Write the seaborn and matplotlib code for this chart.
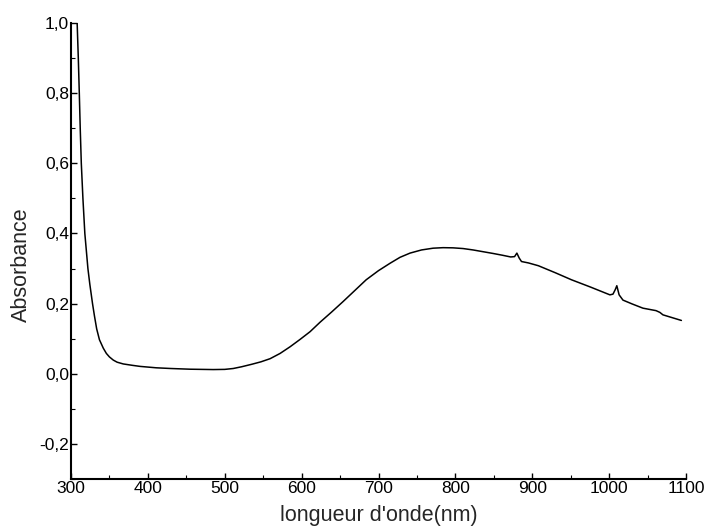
import matplotlib
matplotlib.use("Agg")
import matplotlib.pyplot as plt
import seaborn as sns
import pandas as pd
from matplotlib.ticker import FixedLocator, FixedFormatter, MultipleLocator

wavelength = [308, 309.5, 310.8, 312, 313.4, 315.5, 318, 320, 322, 324.5, 328, 330.5,
              333.4, 337, 342, 346, 350, 355, 360, 368, 380, 390, 411, 430,
              455, 485, 500, 511, 522, 535, 547, 559, 572, 585, 598, 611, 624, 639, 654,
              669, 684, 700, 715, 728, 741, 756, 771, 784, 797, 810, 823, 836, 849, 861,
              872, 877, 880, 883, 886, 895, 908, 930, 951, 976, 1001, 1005, 1008,
              1010, 1013, 1018, 1030, 1044, 1061, 1066, 1070, 1082, 1094]
absorbance = [1.0, 0.9, 0.8, 0.7, 0.6, 0.5, 0.4, 0.35, 0.3, 0.255, 0.2, 0.165,
              0.128, 0.097, 0.073, 0.058, 0.048, 0.039, 0.033, 0.028, 0.024, 0.021,
              0.017, 0.015, 0.013, 0.012, 0.0125, 0.015, 0.02, 0.027, 0.034, 0.043,
              0.058, 0.077, 0.098, 0.12, 0.147, 0.176, 0.206, 0.237, 0.268, 0.294,
              0.315, 0.332, 0.344, 0.353, 0.358, 0.3595, 0.359, 0.357, 0.353, 0.348,
              0.343, 0.338, 0.333, 0.334, 0.344, 0.33, 0.32, 0.316, 0.308, 0.288,
              0.268, 0.247, 0.225, 0.227, 0.24, 0.251, 0.225, 0.21, 0.199, 0.187,
              0.18, 0.175, 0.168, 0.16, 0.152]

xticks = [300, 400, 500, 600, 700, 800, 900, 1000, 1100]
xtick_labels = ["300", "400", "500", "600", "700", "800", "900", "1000", "1100"]
yticks = [-0.2, 0.0, 0.2, 0.4, 0.6, 0.8, 1.0]
ytick_labels = ["-0,2", "0,0", "0,2", "0,4", "0,6", "0,8", "1,0"]

sns.set_style("ticks")
plt.rcParams['font.family'] = ['Liberation Sans', 'DejaVu Sans']

df = pd.DataFrame({"wl": wavelength, "abs": absorbance})

fig = plt.figure(figsize=(7.04, 5.27), dpi=100)
ax = fig.add_axes([71/704, 48/527, 615/704, 456/527])
sns.lineplot(data=df, x="wl", y="abs", ax=ax, color="black", linewidth=1.1,
             estimator=None, sort=False)

ax.set_xlim(300, 1100)
ax.set_ylim(-0.3, 1.0)
ax.xaxis.set_major_locator(FixedLocator(xticks))
ax.xaxis.set_major_formatter(FixedFormatter(xtick_labels))
ax.yaxis.set_major_locator(FixedLocator(yticks))
ax.yaxis.set_major_formatter(FixedFormatter(ytick_labels))
ax.xaxis.set_minor_locator(MultipleLocator(50))
ax.yaxis.set_minor_locator(MultipleLocator(0.1))

for s in ["top", "right"]:
    ax.spines[s].set_visible(False)
for s in ["left", "bottom"]:
    ax.spines[s].set_linewidth(1.5)
    ax.spines[s].set_color("black")

ax.tick_params(axis="both", which="major", direction="in", length=4, width=1,
               labelsize=12.5, colors="black", pad=1.5)
ax.tick_params(axis="both", which="minor", direction="in", length=3, width=0.8,
               colors="black")

ax.set_xlabel("longueur d'onde(nm)", fontsize=15.5)
ax.xaxis.set_label_coords(0.5, -0.058)
ax.xaxis.label.set_va("top")
ax.set_ylabel("Absorbance", fontsize=15.5)
ax.yaxis.set_label_coords(-0.0634, 0.469)

fig.savefig("out.png", dpi=100)
